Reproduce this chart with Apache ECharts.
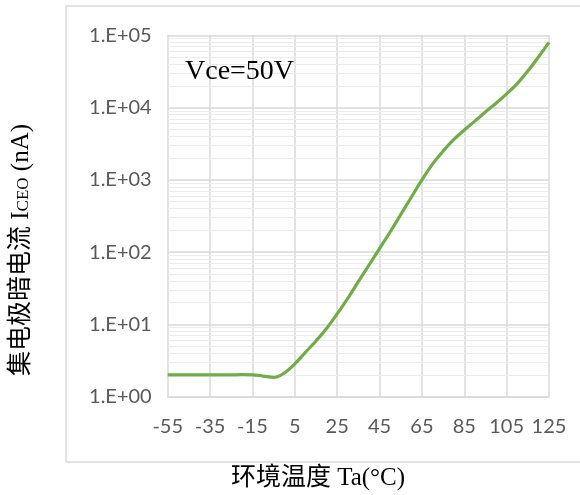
<!DOCTYPE html>
<html>
<head>
<meta charset="utf-8">
<script src="https://cdn.jsdelivr.net/npm/echarts@6/dist/echarts.min.js"></script>
<style>html,body{margin:0;padding:0;background:#fff}#c{width:580px;height:495px}</style>
</head>
<body>
<div id="c"></div>
<script>
// Temperature categories (°C), every 5 degrees
var temps = [-55,-50,-45,-40,-35,-30,-25,-20,-15,-10,-5,0,5,10,15,20,25,30,35,40,45,50,55,60,65,70,75,80,85,90,95,100,105,110,115,120,125];
// Collector dark current ICEO (nA)
var iceo = [2.0,2.0,2.0,2.0,2.0,2.0,2.0,2.02,2.01,1.93,1.85,2.12,2.85,4.1,5.9,8.8,14,23,39,66,112,190,330,575,1000,1650,2500,3600,4900,6500,8700,11500,15500,21500,32000,50000,80000];
// Y tick labels (decades 1e0 .. 1e5)
var yTickLabels = ['1.E+00','1.E+01','1.E+02','1.E+03','1.E+04','1.E+05'];
// Minor grid values (2..9 x 10^k)
var minorMultipliers = [2,3,4,5,6,7,8,9];
var decades = [1,10,100,1000,10000];
var annotation = 'Vce=50V';
var xTitle = '环境温度 Ta(°C)';

var minorVals = [];
decades.forEach(function(d){ minorMultipliers.forEach(function(m){ minorVals.push(m*d); }); });

var chart = echarts.init(document.getElementById('c'), null, {renderer:'canvas'});
var labelFont = 'Lato, "Open Sans", sans-serif';
chart.setOption({
  animation:false,
  backgroundColor:'#ffffff',
  grid:{left:167.7, right:31, top:35.3, bottom:98.3, containLabel:false},
  xAxis:{
    type:'category', data:temps.map(String), boundaryGap:false,
    axisLine:{show:true, lineStyle:{color:'#d9d9d9', width:1.5}},
    axisTick:{show:false},
    axisLabel:{interval:3, color:'#595959', fontFamily:labelFont, fontSize:20, margin:20},
    splitLine:{show:true, interval:3, lineStyle:{color:'#d9d9d9', width:1.5}}
  },
  yAxis:{
    type:'log', min:1, max:100000, logBase:10,
    axisLine:{show:false}, axisTick:{show:false},
    axisLabel:{color:'#595959', fontFamily:labelFont, fontSize:20, margin:16,
      formatter:function(v){ var e=Math.round(Math.log10(v)); return yTickLabels[e]; }},
    splitLine:{show:true, lineStyle:{color:'#d9d9d9', width:1.5}}
  },
  series:[
    {
      type:'line', data:[], z:1, silent:true,
      markLine:{silent:true, symbol:['none','none'], animation:false,
        label:{show:false},
        lineStyle:{color:'#ececec', width:1, type:'solid'},
        data:minorVals.map(function(v){return {yAxis:v};})}
    },
    {
      type:'line', data:iceo, smooth:0.4, showSymbol:false, z:5,
      lineStyle:{color:'#70ad47', width:3.2}
    }
  ],
  graphic:[
    {type:'rect', silent:true, z:-1, shape:{x:66, y:6, width:525, height:456},
     style:{fill:'none', stroke:'#d9d9d9', lineWidth:1.5}},
    {type:'text', left:185, top:58, z:10,
     style:{text:annotation, font:'28px "Liberation Serif", "Times New Roman", serif', fill:'#000'}},
    {type:'text', x:318, y:478, z:10,
     style:{text:xTitle, font:'25px "Liberation Serif", "Noto Sans CJK SC", serif', fill:'#000', align:'center', verticalAlign:'middle'}},
    {type:'text', x:21, y:250, rotation:Math.PI/2, z:10,
     style:{
       text:'{a|集电极暗电流 I}{s|CEO}{a| (nA)}',
       align:'center', verticalAlign:'middle',
       rich:{
         a:{font:'25px "Liberation Serif", "Noto Sans CJK SC", serif', fill:'#000', verticalAlign:'bottom'},
         s:{font:'17px "Liberation Serif", "Noto Sans CJK SC", serif', fill:'#000', verticalAlign:'bottom', padding:[0,0,1,0]}
       }
     }}
  ]
});
</script>
</body>
</html>
